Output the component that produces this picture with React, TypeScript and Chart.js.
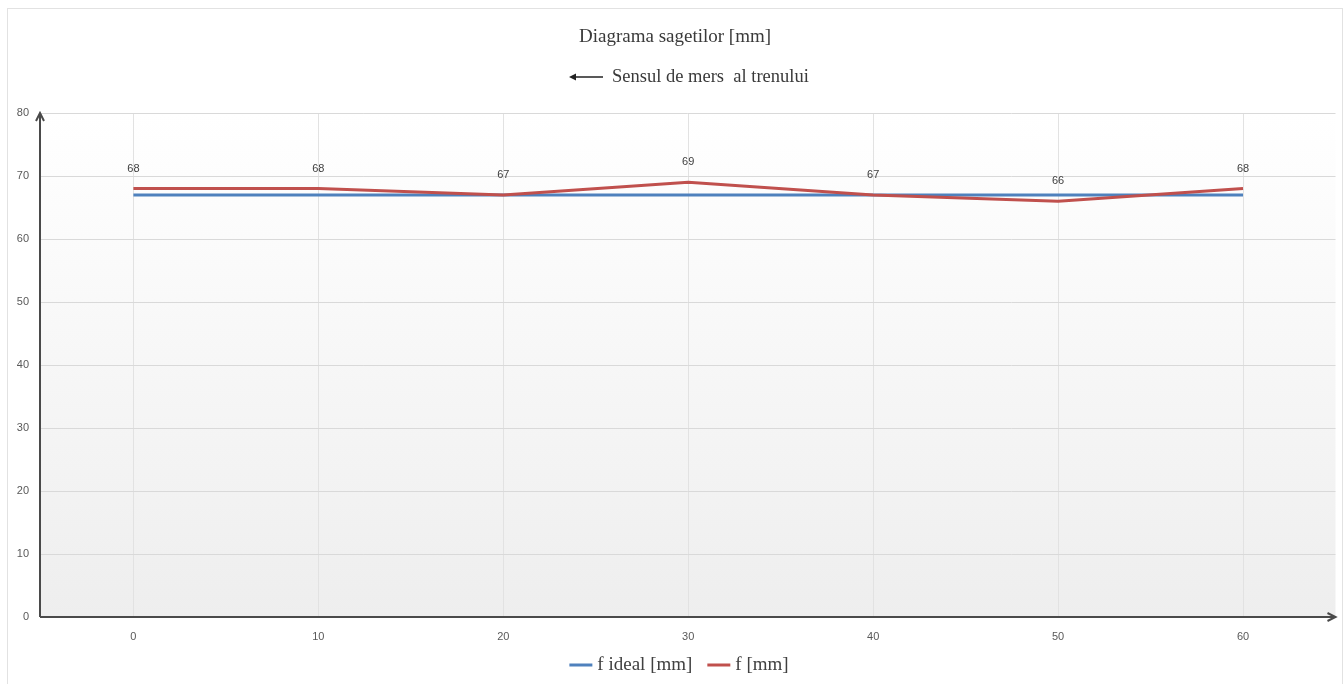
import React, { useEffect, useRef } from "react";
import { Chart, registerables } from "chart.js";

Chart.register(...registerables);

const positions = [0, 10, 20, 30, 40, 50, 60];
const idealValues = [67, 67, 67, 67, 67, 67, 67];
const fValues = [68, 68, 67, 69, 67, 66, 68];
const yTicks = [0, 10, 20, 30, 40, 50, 60, 70, 80];
const titleText = "Diagrama sagetilor [mm]";
const subtitleText = "Sensul de mers  al trenului";
const seriesNames = ["f ideal [mm]", "f [mm]"];
const seriesColors = ["#4F81BD", "#C0504D"];

const SERIF = "'Liberation Serif', 'Times New Roman', serif";
const SANS = "'Liberation Sans', Arial, sans-serif";

const decor = {
  id: "decor",
  beforeDraw(chart: any) {
    const { ctx, chartArea } = chart;
    const { left, right, top, bottom } = chartArea;
    ctx.save();
    const g = ctx.createLinearGradient(0, top, 0, bottom);
    g.addColorStop(0, "#ffffff");
    g.addColorStop(0.25, "#fbfbfb");
    g.addColorStop(1, "#eeeeee");
    ctx.fillStyle = g;
    ctx.fillRect(left, top, right - left, bottom - top);
    ctx.restore();
  },
  afterDatasetsDraw(chart: any) {
    const { ctx } = chart;
    const meta = chart.getDatasetMeta(1);
    ctx.save();
    ctx.font = `11px ${SANS}`;
    ctx.fillStyle = "#404040";
    ctx.textAlign = "center";
    ctx.textBaseline = "middle";
    meta.data.forEach((pt: any, i: number) => {
      ctx.fillText(String(fValues[i]), pt.x, pt.y - 20);
    });
    ctx.restore();
  },
  afterDraw(chart: any) {
    const { ctx, chartArea, width } = chart;
    const { left, right, top, bottom } = chartArea;
    ctx.save();
    // axes with arrows
    ctx.strokeStyle = "#4a4a4a";
    ctx.lineWidth = 2;
    ctx.beginPath();
    ctx.moveTo(left, bottom);
    ctx.lineTo(left, top);
    ctx.moveTo(left - 4, top + 8);
    ctx.lineTo(left, top);
    ctx.lineTo(left + 4, top + 8);
    ctx.moveTo(left, bottom);
    ctx.lineTo(right, bottom);
    ctx.moveTo(right - 8, bottom - 4);
    ctx.lineTo(right, bottom);
    ctx.lineTo(right - 8, bottom + 4);
    ctx.stroke();

    // title
    ctx.fillStyle = "#3a3a3a";
    ctx.font = `19px ${SERIF}`;
    ctx.textAlign = "center";
    ctx.textBaseline = "middle";
    ctx.fillText(titleText, width / 2, 28);

    // subtitle with arrow
    ctx.font = `18.5px ${SERIF}`;
    ctx.textAlign = "left";
    ctx.fillText(subtitleText, 604, 68);
    ctx.strokeStyle = "#222";
    ctx.lineWidth = 1.5;
    ctx.beginPath();
    ctx.moveTo(566, 68);
    ctx.lineTo(595, 68);
    ctx.stroke();
    ctx.fillStyle = "#222";
    ctx.beginPath();
    ctx.moveTo(561, 68);
    ctx.lineTo(568, 64.5);
    ctx.lineTo(568, 71.5);
    ctx.closePath();
    ctx.fill();

    // legend
    ctx.font = `19px ${SERIF}`;
    ctx.textBaseline = "middle";
    const lineW = 23;
    const gap = 5;
    const itemGap = 15;
    const widths = seriesNames.map((n) => ctx.measureText(n).width);
    const total = widths.reduce((a, w) => a + lineW + gap + w, 0) + itemGap * (seriesNames.length - 1);
    let x = width / 2 + 4 - total / 2;
    const y = 656;
    seriesNames.forEach((n, i) => {
      ctx.strokeStyle = seriesColors[i];
      ctx.lineWidth = 3;
      ctx.beginPath();
      ctx.moveTo(x, y);
      ctx.lineTo(x + lineW, y);
      ctx.stroke();
      ctx.fillStyle = "#404040";
      ctx.fillText(n, x + lineW + gap, y);
      x += lineW + gap + widths[i] + itemGap;
    });
    ctx.restore();
  },
};

export default function App() {
  const ref = useRef<HTMLCanvasElement>(null);
  useEffect(() => {
    const chart = new Chart(ref.current!, {
      type: "line",
      data: {
        datasets: [
          {
            label: seriesNames[0],
            data: positions.map((p, i) => ({ x: p, y: idealValues[i] })),
            borderColor: seriesColors[0],
            backgroundColor: seriesColors[0],
            borderWidth: 3,
            pointRadius: 0,
            tension: 0,
            order: 1,
          },
          {
            label: seriesNames[1],
            data: positions.map((p, i) => ({ x: p, y: fValues[i] })),
            borderColor: seriesColors[1],
            backgroundColor: seriesColors[1],
            borderWidth: 3,
            pointRadius: 0,
            tension: 0,
            order: 0,
          },
        ],
      },
      plugins: [decor],
      options: {
        animation: false,
        responsive: true,
        maintainAspectRatio: false,
        layout: { padding: { top: 104, right: 6.5, left: 0, bottom: 0 } },
        plugins: {
          legend: { display: false },
          title: { display: false },
          tooltip: { enabled: false },
        },
        scales: {
          x: {
            type: "linear",
            min: -5.05,
            max: 65,
            afterBuildTicks: (scale: any) => {
              scale.ticks = positions.map((v) => ({ value: v }));
            },
            afterFit: (scale: any) => {
              scale.height = 67;
            },
            border: { display: false },
            grid: { color: "#e2e2e2", lineWidth: 1, drawTicks: false },
            ticks: {
              padding: 13,
              color: "#595959",
              font: { family: SANS, size: 11 },
              callback: (v: any) => String(v),
            },
          },
          y: {
            min: 0,
            max: 80,
            afterBuildTicks: (scale: any) => {
              scale.ticks = yTicks.map((v) => ({ value: v }));
            },
            afterFit: (scale: any) => {
              scale.width = 32;
            },
            border: { display: false },
            grid: { color: "#d9d9d9", lineWidth: 1, drawTicks: false },
            ticks: {
              padding: 11,
              color: "#595959",
              font: { family: SANS, size: 11 },
              callback: (v: any) => String(v),
            },
          },
        },
      },
    } as any);
    return () => chart.destroy();
  }, []);
  return (
    <div
      style={{
        position: "fixed",
        left: 7,
        top: 8,
        width: 1336,
        height: 676,
        boxSizing: "border-box",
        border: "1px solid #e2e2e2",
        borderBottom: "none",
        background: "#fff",
      }}
    >
      <div style={{ position: "relative", width: 1334, height: 675 }}>
        <canvas ref={ref} />
      </div>
    </div>
  );
}
